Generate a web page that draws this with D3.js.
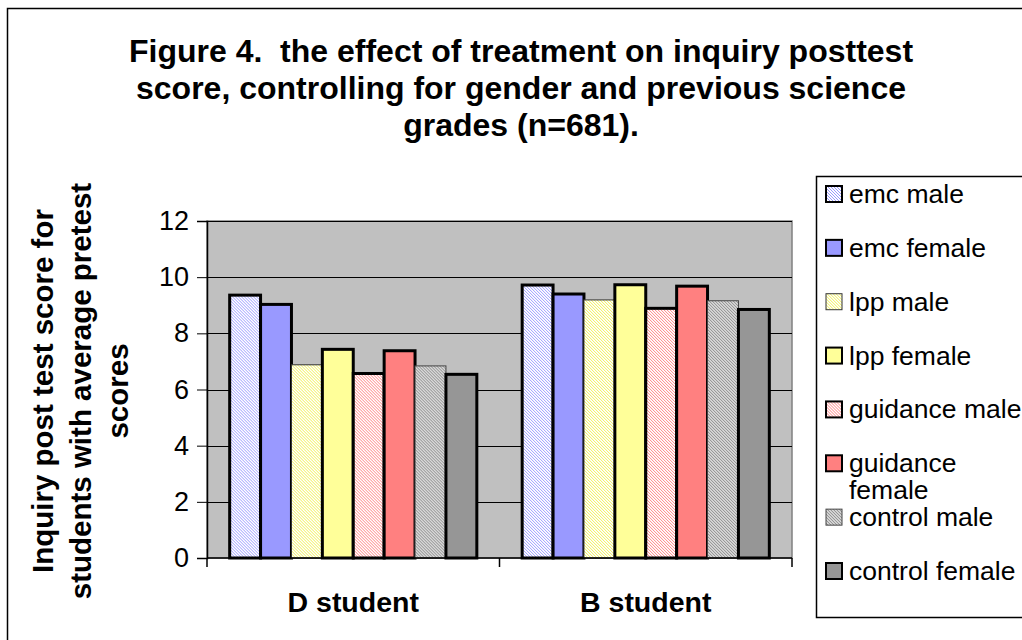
<!DOCTYPE html>
<html>
<head>
<meta charset="utf-8">
<script src="https://cdn.jsdelivr.net/npm/d3@7"></script>
<style>
  body { margin: 0; background: #fff; }
  svg { display: block; font-family: "Liberation Sans", Arial, sans-serif; }
  .pre { white-space: pre; }
</style>
</head>
<body>
<script>
// chart data
const categories = ["D student", "B student"];
const seriesNames = ["emc male", "emc female", "lpp male", "lpp female",
  "guidance male", "guidance female", "control male", "control female"];
const dStudent = [9.36, 9.03, 6.88, 7.43, 6.57, 7.38, 6.84, 6.54];
const bStudent = [9.72, 9.40, 9.19, 9.73, 8.89, 9.68, 9.16, 8.85];
const yTicks = [0, 2, 4, 6, 8, 10, 12];
const titleLines = ["Figure 4.  the effect of treatment on inquiry posttest",
  "score, controlling for gender and previous science",
  "grades (n=681)."];
const yTitleLines = ["Inquiry post test score for", "students with average pretest", "scores"];

const values = [dStudent, bStudent];

// look of each series (solid or hatched)
const look = {
  "emc male":        { fill: "url(#hEmc)",  stroke: "#000", sw: 3 },
  "emc female":      { fill: "#9999ff",     stroke: "#000", sw: 3 },
  "lpp male":        { fill: "url(#hLpp)",  stroke: "#333", sw: 1 },
  "lpp female":      { fill: "#ffff99",     stroke: "#000", sw: 3 },
  "guidance male":   { fill: "url(#hGui)",  stroke: "#000", sw: 3 },
  "guidance female": { fill: "#ff8080",     stroke: "#000", sw: 3 },
  "control male":    { fill: "url(#hCon)",  stroke: "#444", sw: 1 },
  "control female":  { fill: "#969696",     stroke: "#000", sw: 3 }
};

const W = 1022, H = 640;
const svg = d3.select("body").append("svg").attr("width", W).attr("height", H);

// hatch patterns
const defs = svg.append("defs");
function hatch(id, bg, line) {
  const p = defs.append("pattern").attr("id", id)
    .attr("patternUnits", "userSpaceOnUse").attr("width", 3).attr("height", 3);
  p.append("rect").attr("width", 3).attr("height", 3).attr("fill", bg);
  p.append("path").attr("d", "M-1,-1 L4,4 M-1,2 L1,4 M2,-1 L4,1")
    .attr("stroke", line).attr("stroke-width", 1);
}
hatch("hEmc", "#ffffff", "#9999ff");
hatch("hLpp", "#ffffff", "#f0f050");
hatch("hGui", "#ffffff", "#ff8080");
hatch("hCon", "#d8d8d8", "#8c8c8c");

// outer chart border
svg.append("rect").attr("x", 7.5).attr("y", 8.5).attr("width", W + 10).attr("height", H + 10)
  .attr("fill", "none").attr("stroke", "#000").attr("stroke-width", 1.5);

// title
svg.append("text").attr("class", "pre").attr("x", 521).attr("y", 62)
  .attr("text-anchor", "middle").attr("font-weight", "bold").attr("font-size", 32)
  .selectAll("tspan").data(titleLines).join("tspan")
  .attr("x", 521).attr("dy", (d, i) => i === 0 ? 0 : 37).text(d => d);

// plot area
const plot = { left: 207, right: 792, top: 221, bottom: 558 };
const y = d3.scaleLinear().domain([0, 12]).range([plot.bottom, plot.top]);
const x0 = d3.scaleBand().domain(categories).range([plot.left, plot.right])
  .paddingInner(0.155).paddingOuter(0.0775);
const x1 = d3.scaleBand().domain(seriesNames).range([0, x0.bandwidth()]).padding(0);

svg.append("rect").attr("x", plot.left).attr("y", plot.top)
  .attr("width", plot.right - plot.left).attr("height", plot.bottom - plot.top)
  .attr("fill", "#c0c0c0").attr("stroke", "#808080").attr("stroke-width", 1.5);

// gridlines
svg.append("g").selectAll("line").data(yTicks.filter(t => t > 0)).join("line")
  .attr("x1", plot.left).attr("x2", plot.right)
  .attr("y1", d => Math.round(y(d)) + 0.5).attr("y2", d => Math.round(y(d)) + 0.5)
  .attr("stroke", "#000").attr("stroke-width", 1);

// bars
const groups = svg.append("g").selectAll("g").data(categories).join("g")
  .attr("transform", d => `translate(${x0(d)},0)`);
groups.selectAll("rect")
  .data((c, ci) => seriesNames.map((s, si) => ({ s, v: values[ci][si] })))
  .join("rect")
  .attr("x", d => x1(d.s))
  .attr("y", d => y(d.v))
  .attr("width", x1.bandwidth())
  .attr("height", d => y(0) - y(d.v))
  .attr("fill", d => look[d.s].fill)
  .attr("stroke", d => look[d.s].stroke)
  .attr("stroke-width", d => look[d.s].sw);

// y axis
const yAxis = svg.append("g").attr("transform", `translate(${plot.left},0)`)
  .call(d3.axisLeft(y).tickValues(yTicks).tickSize(10).tickPadding(8));
yAxis.select(".domain").attr("stroke", "#000").attr("stroke-width", 1.5);
yAxis.selectAll(".tick line").attr("stroke", "#000");
yAxis.selectAll(".tick text").attr("font-size", 27).attr("fill", "#000")
  .attr("font-family", "Liberation Sans, Arial, sans-serif");

// x axis: line with ticks at category boundaries
const xAxis = svg.append("g").attr("transform", `translate(0,${plot.bottom})`);
xAxis.append("line").attr("x1", plot.left).attr("x2", plot.right)
  .attr("stroke", "#000").attr("stroke-width", 1.5);
const bounds = [plot.left, (x0(categories[0]) + x0.bandwidth() + x0(categories[1])) / 2, plot.right];
xAxis.selectAll(".bt").data(bounds).join("line").attr("class", "bt")
  .attr("x1", d => d).attr("x2", d => d).attr("y1", 0).attr("y2", 9)
  .attr("stroke", "#000").attr("stroke-width", 1.5);
xAxis.selectAll("text").data(categories).join("text")
  .attr("x", d => x0(d) + x0.bandwidth() / 2).attr("y", 54)
  .attr("text-anchor", "middle").attr("font-weight", "bold").attr("font-size", 28.5)
  .text(d => d);

// y axis title
svg.append("text").attr("transform", "translate(53,391) rotate(-90)")
  .attr("text-anchor", "middle").attr("font-weight", "bold").attr("font-size", 29.5)
  .selectAll("tspan").data(yTitleLines).join("tspan")
  .attr("x", 0).attr("dy", (d, i) => i === 0 ? 0 : 37.5).text(d => d);

// legend
const lg = svg.append("g");
lg.append("rect").attr("x", 816.5).attr("y", 176.5).attr("width", 220).attr("height", 441)
  .attr("fill", "#fff").attr("stroke", "#000").attr("stroke-width", 1.5);
const legendY = d3.scalePoint().domain(seriesNames).range([194, 571]);
const items = lg.selectAll("g").data(seriesNames).join("g")
  .attr("transform", d => `translate(826,${legendY(d)})`);
items.append("rect").attr("x", 0).attr("y", -8).attr("width", 16).attr("height", 16)
  .attr("fill", d => look[d].fill).attr("stroke", d => look[d].stroke)
  .attr("stroke-width", d => look[d].sw === 1 ? 1 : 2);
items.append("text").attr("x", 23).attr("y", 9).attr("font-size", 26.5)
  .each(function (d) {
    const t = d3.select(this);
    if (d === "guidance female") {
      t.append("tspan").attr("x", 23).text("guidance");
      t.append("tspan").attr("x", 23).attr("dy", 27).text("female");
    } else {
      t.text(d);
    }
  });
</script>
</body>
</html>
